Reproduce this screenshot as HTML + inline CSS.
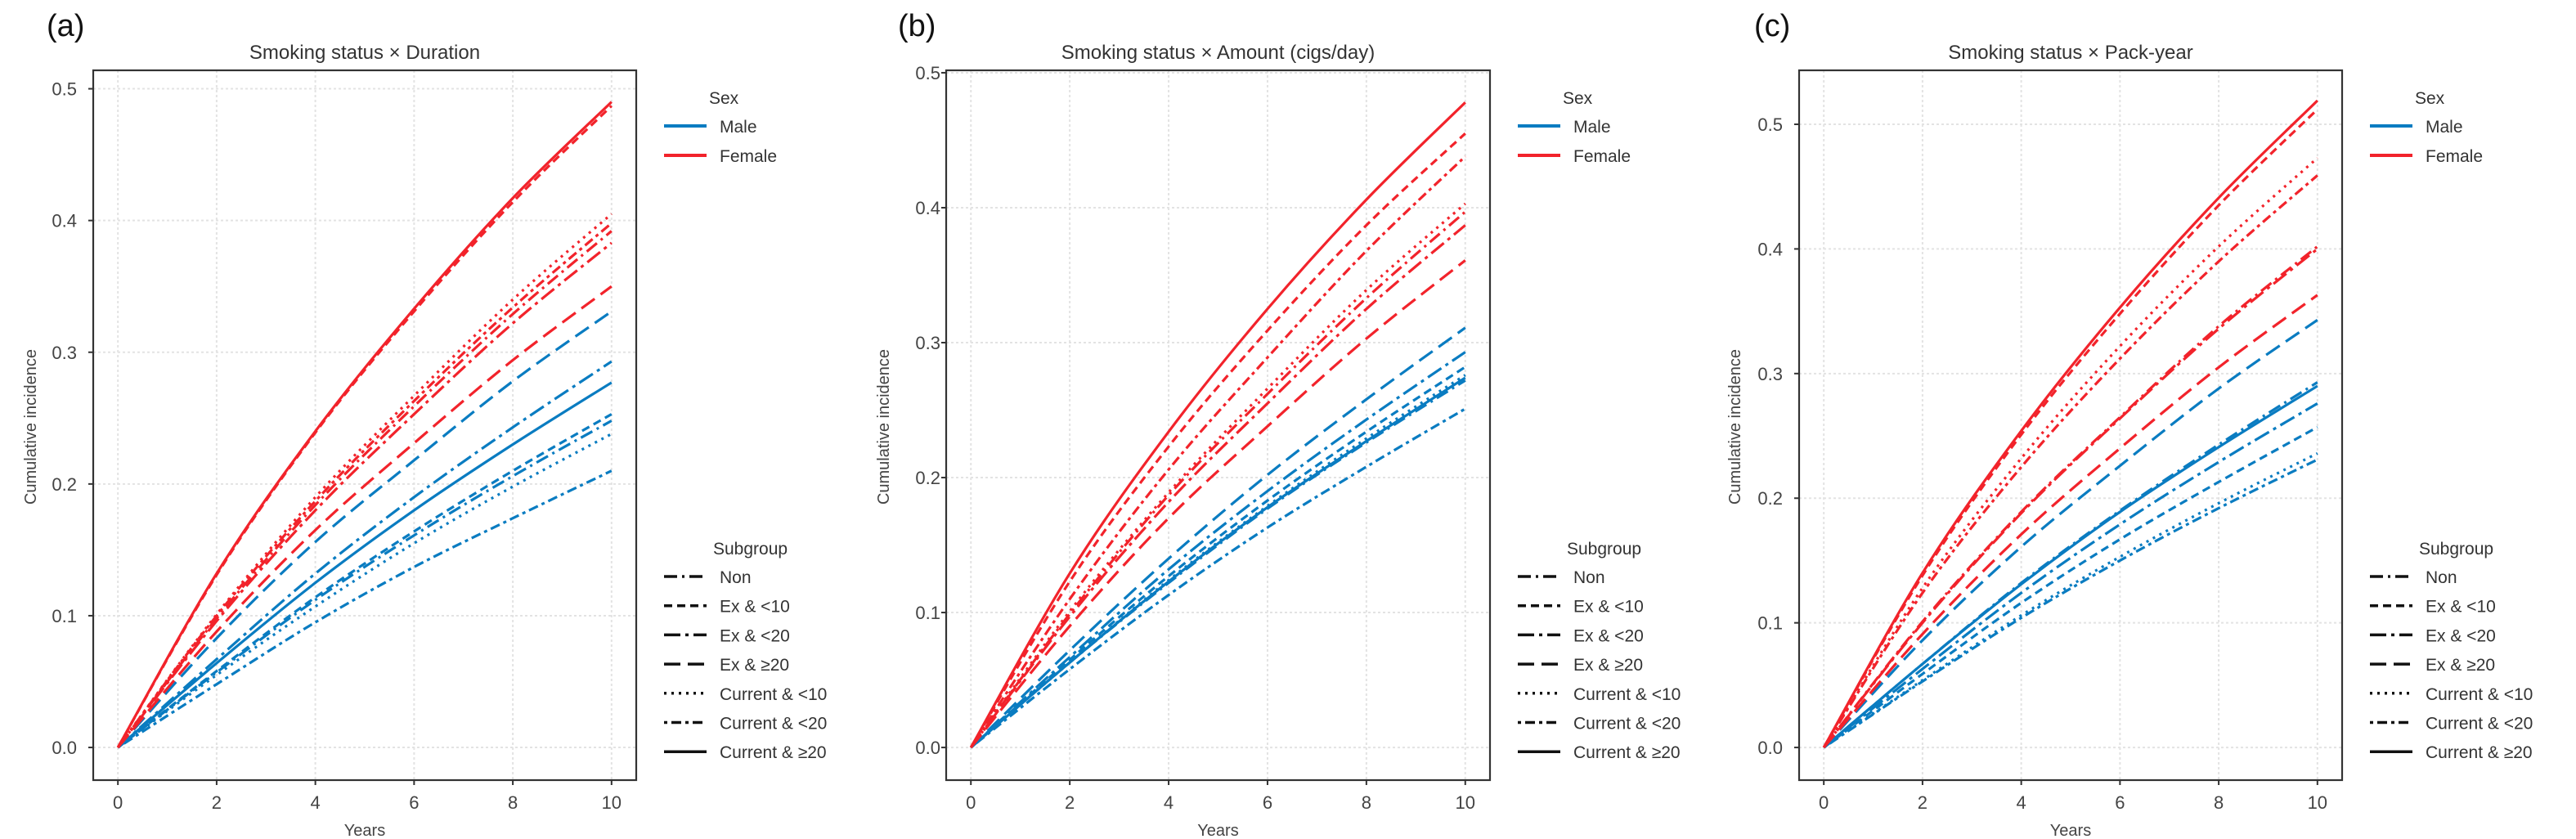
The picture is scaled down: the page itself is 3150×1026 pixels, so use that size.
<!DOCTYPE html>
<html><head><meta charset="utf-8">
<style>
html,body{margin:0;padding:0;background:#fff;}
svg{display:block;font-family:"Liberation Sans","DejaVu Sans",sans-serif;}
</style></head>
<body>
<svg id="chart" width="3150" height="1026" viewBox="0 0 3150 1026" xmlns="http://www.w3.org/2000/svg"></svg>
<script>
// ---- data ----
const years = [0, 2, 4, 6, 8, 10];
const subgroups = ["Non", "Ex & <10", "Ex & <20", "Ex & \u226520", "Current & <10", "Current & <20", "Current & \u226520"];
const panelTitles = ["Smoking status \u00d7 Duration", "Smoking status \u00d7 Amount (cigs/day)", "Smoking status \u00d7 Pack-year"];
const panelLabels = ["(a)", "(b)", "(c)"];
const yTicks = [0, 0.1, 0.2, 0.3, 0.4, 0.5];
const yTickLabels = ["0.0", "0.1", "0.2", "0.3", "0.4", "0.5"];
const xTicks = [0, 2, 4, 6, 8, 10];
const xTickLabels = ["0", "2", "4", "6", "8", "10"];

// panel (a): order = Non, Ex<10, Ex<20, Ex>=20, Cur<10, Cur<20, Cur>=20
const femaleA = [
  [0,.098,.184,.259,.329,.392],
  [0,.131,.239,.331,.414,.487],
  [0,.096,.180,.253,.322,.383],
  [0,.088,.165,.231,.294,.350],
  [0,.101,.190,.267,.340,.405],
  [0,.100,.187,.263,.334,.398],
  [0,.132,.240,.333,.417,.490]];
const maleA = [
  [0,.057,.112,.161,.206,.248],
  [0,.058,.114,.164,.210,.253],
  [0,.067,.132,.190,.243,.293],
  [0,.083,.156,.218,.278,.331],
  [0,.055,.107,.155,.198,.238],
  [0,.048,.095,.137,.174,.210],
  [0,.064,.125,.180,.230,.277]];
// panel (b)
const femaleB = [
  [0,.099,.187,.262,.333,.397],
  [0,.123,.223,.309,.387,.455],
  [0,.097,.182,.255,.325,.387],
  [0,.090,.170,.238,.303,.361],
  [0,.101,.189,.266,.339,.403],
  [0,.110,.206,.289,.368,.438],
  [0,.129,.234,.325,.406,.478]];
const maleB = [
  [0,.063,.122,.177,.226,.272],
  [0,.065,.127,.183,.234,.282],
  [0,.067,.132,.190,.243,.293],
  [0,.072,.140,.202,.258,.311],
  [0,.063,.124,.179,.229,.276],
  [0,.058,.113,.163,.208,.251],
  [0,.063,.123,.178,.227,.274]];
// panel (c)
const femaleC = [
  [0,.101,.189,.265,.338,.402],
  [0,.138,.251,.348,.435,.512],
  [0,.100,.188,.264,.336,.400],
  [0,.091,.171,.240,.305,.363],
  [0,.128,.232,.322,.402,.473],
  [0,.124,.225,.312,.390,.459],
  [0,.140,.254,.353,.441,.519]];
const maleC = [
  [0,.067,.132,.190,.243,.293],
  [0,.059,.116,.167,.213,.257],
  [0,.063,.124,.179,.229,.276],
  [0,.086,.161,.226,.288,.343],
  [0,.054,.106,.153,.196,.236],
  [0,.053,.104,.150,.192,.231],
  [0,.067,.131,.189,.241,.290]];

const femaleData = [femaleA, femaleB, femaleC];
const maleData = [maleA, maleB, maleC];

// ---- styles / layout ----
const dashes = ["16 6 3 6", "10 6", "20 6 4 6", "20 9", "3 6", "4 5 12 5", ""];
const BLUE = "#0a7cc1", RED = "#f2232b";
const panels = [
  {left:114, right:778, ymin:-0.0248, ymax:0.514, tickRight:94, yTitleX:37, labelX:57},
  {left:1157, right:1822, ymin:-0.0242, ymax:0.5018, tickRight:1150, yTitleX:1080, labelX:1098},
  {left:2200, right:2864, ymin:-0.0262, ymax:0.5433, tickRight:2180, yTitleX:2121, labelX:2145}];
const TOP = 86, BOTTOM = 954, XMIN = -0.5, XMAX = 10.5;
const NS = "http://www.w3.org/2000/svg";
const svg = document.getElementById("chart");

function mk(tag, attrs, parent) {
  const e = document.createElementNS(NS, tag);
  for (const k in attrs) e.setAttribute(k, attrs[k]);
  (parent || svg).appendChild(e);
  return e;
}
function pathFrom(pts) {
  let d = "M" + pts[0][0].toFixed(2) + "," + pts[0][1].toFixed(2);
  for (let i = 0; i < pts.length - 1; i++) {
    const p0 = pts[Math.max(0, i - 1)], p1 = pts[i], p2 = pts[i + 1], p3 = pts[Math.min(pts.length - 1, i + 2)];
    const c1x = p1[0] + (p2[0] - p0[0]) / 6, c1y = p1[1] + (p2[1] - p0[1]) / 6;
    const c2x = p2[0] - (p3[0] - p1[0]) / 6, c2y = p2[1] - (p3[1] - p1[1]) / 6;
    d += " C" + c1x.toFixed(2) + "," + c1y.toFixed(2) + " " + c2x.toFixed(2) + "," + c2y.toFixed(2) + " " + p2[0].toFixed(2) + "," + p2[1].toFixed(2);
  }
  return d;
}

panels.forEach((P, pi) => {
  const g = mk("g", {});
  
  
  const xs = v => P.left + (v - XMIN) / (XMAX - XMIN) * (P.right - P.left);
  const ys = v => BOTTOM - (v - P.ymin) / (P.ymax - P.ymin) * (BOTTOM - TOP);

  // grid
  yTicks.forEach(t => {
    const l = mk("line", {x1:P.left, x2:P.right, y1:ys(t), y2:ys(t), stroke:"#e3e3e3", "stroke-width":2, "stroke-dasharray":"3 3"}, g);
    
    
  });
  xTicks.forEach(t => {
    const l = mk("line", {x1:xs(t), x2:xs(t), y1:TOP, y2:BOTTOM, stroke:"#e3e3e3", "stroke-width":2, "stroke-dasharray":"3 3"}, g);
    
    
  });

  // series
  const draw = (arr, color, sex) => {
    arr.forEach((vals, si) => {
      const pts = vals.map((v, i) => [xs(years[i]), ys(v)]);
      const p = mk("path", {d:pathFrom(pts), fill:"none", stroke:color, "stroke-width":3.2, "stroke-dasharray":dashes[si] || "none"}, g);
      
      
    });
  };
  draw(maleData[pi], BLUE, "male");
  draw(femaleData[pi], RED, "female");

  // box
  const box = mk("rect", {x:P.left, y:TOP, width:P.right - P.left, height:BOTTOM - TOP, fill:"none", stroke:"#333", "stroke-width":2.2}, g);
  
  

  // y ticks
  yTicks.forEach((t, i) => {
    mk("line", {x1:P.left - 6, x2:P.left, y1:ys(t), y2:ys(t), stroke:"#333", "stroke-width":2}, g);
    const tx = mk("text", {x:P.tickRight, y:ys(t) + 8, "text-anchor":"end", "font-size":22, fill:"#444"}, g);
    tx.textContent = yTickLabels[i];
    
    
  });
  xTicks.forEach((t, i) => {
    mk("line", {x1:xs(t), x2:xs(t), y1:BOTTOM, y2:BOTTOM + 6, stroke:"#333", "stroke-width":2}, g);
    const tx = mk("text", {x:xs(t), y:989, "text-anchor":"middle", "font-size":22, fill:"#444"}, g);
    tx.textContent = xTickLabels[i];
    
    
  });

  // axis titles
  const xt = mk("text", {x:(P.left + P.right) / 2, y:1022, "text-anchor":"middle", "font-size":20, fill:"#444"}, g);
  xt.textContent = "Years";
  
  
  const yt = mk("text", {x:0, y:0, "text-anchor":"middle", "font-size":20, fill:"#444", transform:"translate(" + (P.yTitleX + 7) + ",522) rotate(-90)"}, g);
  yt.textContent = "Cumulative incidence";
  
  

  // title and panel label
  const ti = mk("text", {x:(P.left + P.right) / 2, y:72, "text-anchor":"middle", "font-size":24, fill:"#333"}, g);
  ti.textContent = panelTitles[pi];
  
  
  const lb = mk("text", {x:P.labelX, y:44, "font-size":38, fill:"#111"}, g);
  lb.textContent = panelLabels[pi];
  
  

  // legends
  const lx = P.right + 34, tx0 = P.right + 102;
  const lg = mk("g", {}, g);
  
  
  const st = mk("text", {x:P.right + 89, y:127, "font-size":21, fill:"#333"}, lg);
  st.textContent = "Sex";
  [["Male", BLUE, 154], ["Female", RED, 190]].forEach(r => {
    mk("line", {x1:lx, x2:lx + 52, y1:r[2], y2:r[2], stroke:r[1], "stroke-width":4}, lg);
    const t = mk("text", {x:tx0, y:r[2] + 8, "font-size":21, fill:"#333"}, lg);
    t.textContent = r[0];
    
    
  });
  const sg = mk("g", {}, g);
  
  
  const sgt = mk("text", {x:P.right + 94, y:678, "font-size":21, fill:"#333"}, sg);
  sgt.textContent = "Subgroup";
  subgroups.forEach((s, i) => {
    const yy = 705 + i * 35.7;
    mk("line", {x1:lx, x2:lx + 52, y1:yy, y2:yy, stroke:"#111", "stroke-width":3.5, "stroke-dasharray":dashes[i] || "none"}, sg);
    const t = mk("text", {x:tx0, y:yy + 8, "font-size":21, fill:"#333"}, sg);
    t.textContent = s;
    
    
  });
});
</script>
</body></html>
